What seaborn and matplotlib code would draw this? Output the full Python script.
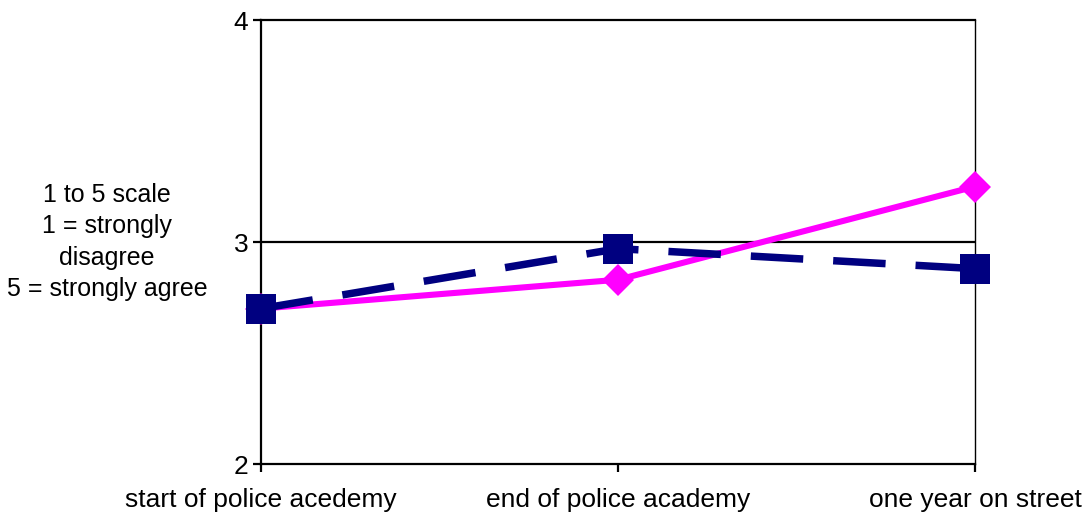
import matplotlib
matplotlib.use("Agg")
import matplotlib.pyplot as plt
import seaborn as sns
import pandas as pd

# Survey stages and mean scores (1-5 agreement scale)
stages = ["start of police acedemy", "end of police academy", "one year on street"]
series_a = [2.70, 2.83, 3.25]   # magenta, diamonds
series_b = [2.70, 2.97, 2.88]   # navy, squares, dashed
y_ticks = [2, 3, 4]
y_label = "1 to 5 scale\n1 = strongly\ndisagree\n5 = strongly agree"

sns.set_style("white")
plt.rcParams["font.family"] = ["Liberation Sans", "DejaVu Sans"]

stage_cat = pd.Categorical(stages, categories=stages, ordered=True)
df_a = pd.DataFrame({"stage": stage_cat, "score": series_a})
df_b = pd.DataFrame({"stage": stage_cat, "score": series_b})

fig = plt.figure(figsize=(10.91, 5.2), dpi=100)
ax = fig.add_axes([261 / 1091, 1 - 464 / 520, (975 - 261) / 1091, (464 - 20) / 520])

sns.lineplot(data=df_a, x="stage", y="score", ax=ax, color="#FF00FF",
             linewidth=4.4, marker="D", markersize=16.5, markeredgewidth=0,
             clip_on=False, zorder=3)
sns.lineplot(data=df_b, x="stage", y="score", ax=ax, color="#000080",
             linewidth=5.4, linestyle=(0, (7.0, 4.0)), marker="s",
             markersize=21, markeredgewidth=0, clip_on=False, zorder=4)

ax.set_xlim(0, len(stages) - 1)
ax.set_ylim(y_ticks[0], y_ticks[-1])
ax.set_xticks(range(len(stages)))
ax.set_xticklabels(stages)
ax.set_yticks(y_ticks)
ax.set_yticklabels([str(t) for t in y_ticks])
ax.set_xlabel("")
ax.set_ylabel("")

# Horizontal gridline at the middle value
ax.axhline(3, color="black", linewidth=1.6, zorder=1)

for side in ("left", "bottom", "top"):
    ax.spines[side].set_visible(True)
    ax.spines[side].set_color("black")
    ax.spines[side].set_linewidth(1.6)
ax.spines["right"].set_visible(True)
ax.spines["right"].set_color("black")
ax.spines["right"].set_linewidth(1.0)

ax.tick_params(axis="both", which="major", direction="out", length=6,
               width=1.6, color="black", labelsize=19, labelcolor="black",
               bottom=True, left=True, top=False, right=False)
ax.tick_params(axis="x", pad=11.5)
ax.tick_params(axis="y", pad=3)

fig.text(107 / 1091, 1 - 242 / 520, y_label, ha="center", va="center",
         multialignment="center", fontsize=18, linespacing=1.38, color="black")

fig.savefig("out.png", dpi=100)
